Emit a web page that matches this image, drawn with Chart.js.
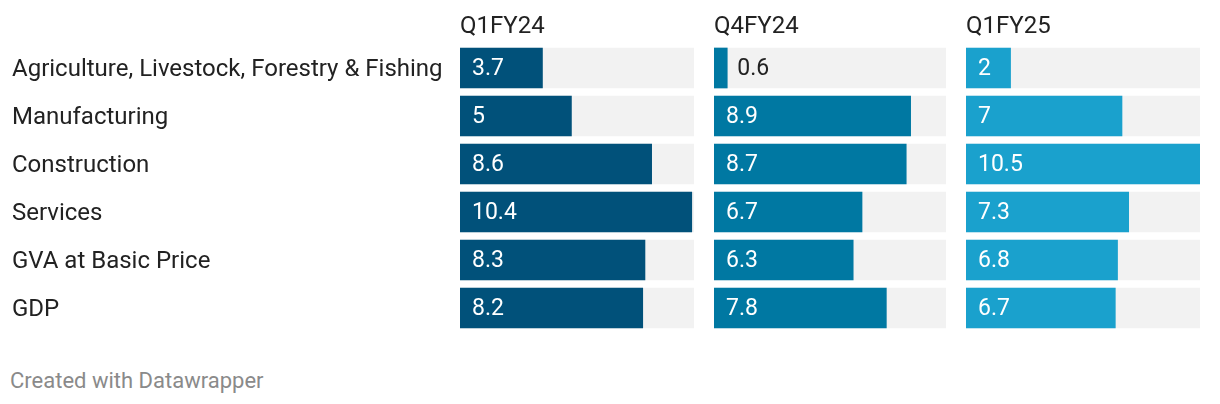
<!DOCTYPE html>
<html>
<head>
<meta charset="utf-8">
<script src="https://cdn.jsdelivr.net/npm/chart.js@4"></script>
<style>
  body { margin: 0; background: #fff; }
  #wrap { position: relative; width: 1220px; height: 404px; font-family: Roboto, sans-serif; }
  .panel { position: absolute; top: 0; height: 340px; }
  #footer { position: absolute; left: 10px; top: 370px; font-size: 22px; line-height: 22px; color: #8a8a8a; }
</style>
</head>
<body>
<div id="wrap">
  <div class="panel" style="left:0;width:694px"><canvas id="c0"></canvas></div>
  <div class="panel" style="left:714px;width:232px"><canvas id="c1"></canvas></div>
  <div class="panel" style="left:966px;width:234px"><canvas id="c2"></canvas></div>
  <div id="footer">Created with Datawrapper</div>
</div>
<script>
// data
const categories = ['Agriculture, Livestock, Forestry & Fishing', 'Manufacturing', 'Construction', 'Services', 'GVA at Basic Price', 'GDP'];
const periods = ['Q1FY24', 'Q4FY24', 'Q1FY25'];
const q1fy24 = [3.7, 5, 8.6, 10.4, 8.3, 8.2];
const q4fy24 = [0.6, 8.9, 8.7, 6.7, 6.3, 7.8];
const q1fy25 = [2, 7, 10.5, 7.3, 6.8, 6.7];
const maxValue = 10.5;

const seriesList = [q1fy24, q4fy24, q1fy25];
const colors = ['#01517a', '#0078a2', '#1aa1cd'];

// titre au-dessus de chaque panneau
const titlePlugin = {
    id: 'panelTitle',
    afterDraw(chart, args, opts) {
        const ctx = chart.ctx;
        ctx.save();
        ctx.font = '24px Roboto';
        ctx.fillStyle = '#222';
        ctx.textBaseline = 'alphabetic';
        ctx.textAlign = 'left';
        ctx.fillText(opts.text, chart.chartArea.left, 33);
        ctx.restore();
    }
};

// valeurs dans les barres
const valuePlugin = {
    id: 'valueLabels',
    afterDatasetsDraw(chart) {
        const ctx = chart.ctx;
        const meta = chart.getDatasetMeta(0);
        const data = chart.data.datasets[0].data;
        ctx.save();
        ctx.font = '23px Roboto';
        ctx.textBaseline = 'middle';
        ctx.textAlign = 'left';
        meta.data.forEach((bar, i) => {
            const label = String(data[i]);
            const w = ctx.measureText(label).width;
            const barW = bar.x - bar.base;
            if (barW > w + 20) {
                ctx.fillStyle = '#fff';
                ctx.fillText(label, bar.base + 12, bar.y + 1);
            } else {
                ctx.fillStyle = '#222';
                ctx.fillText(label, bar.x + 10, bar.y + 1);
            }
        });
        ctx.restore();
    }
};

seriesList.forEach((values, p) => {
    const ctx = document.getElementById('c' + p).getContext('2d');
    const yAxis = {
        display: p === 0,
        grid: { display: false },
        border: { display: false },
        ticks: {
            color: '#222',
            font: { family: 'Roboto', size: 24 },
            crossAlign: 'far',
            padding: 0,
            labelOffset: 2
        }
    };
    if (p === 0) {
        yAxis.afterFit = function(scale) {
            scale.width = 448;
            scale.paddingTop = 0;
            scale.paddingBottom = 0;
        };
    }
    new Chart(ctx, {
        type: 'bar',
        data: {
            labels: categories,
            datasets: [{
                data: values,
                backgroundColor: colors[p],
                barThickness: 40,
                grouped: false,
                order: 0
            },
            {
                data: categories.map(() => maxValue),
                backgroundColor: '#f2f2f2',
                barThickness: 40,
                grouped: false,
                order: 1
            }]
        },
        options: {
            indexAxis: 'y',
            responsive: true,
            maintainAspectRatio: false,
            animation: false,
            devicePixelRatio: 1,
            layout: { padding: { top: 44, bottom: 8, left: p === 0 ? 12 : 0, right: 0 } },
            scales: {
                x: { display: false, min: 0, max: maxValue },
                y: yAxis
            },
            plugins: {
                legend: { display: false },
                tooltip: { enabled: false },
                panelTitle: { text: periods[p] }
            }
        },
        plugins: [titlePlugin, valuePlugin]
    });
});
</script>
</body>
</html>
